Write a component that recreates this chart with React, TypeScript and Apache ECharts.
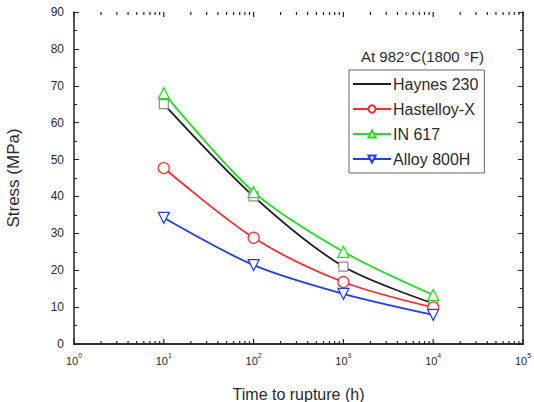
import React, { useEffect, useRef } from "react";
import * as echarts from "echarts";

const times = [10, 100, 1000, 10000];
const haynes = [65, 40, 21, 11];
const hastelloy = [47.7, 28.8, 16.8, 9.9];
const in617 = [68, 41.2, 25, 13.3];
const alloy800 = [34.2, 21.4, 13.6, 7.9];
const yTicks = [0, 10, 20, 30, 40, 50, 60, 70, 80, 90];
const majorX = [1, 10, 100, 1000, 10000, 100000];
const minorMult = [2, 3, 4, 5, 6, 7, 8, 9];

const xTicks: number[][] = [];
majorX.forEach((d) => {
  xTicks.push([d, 5]);
  if (d < 100000) minorMult.forEach((m) => xTicks.push([d * m, 3]));
});

const pair = (vals: number[]) => times.map((t, i) => [t, vals[i]]);

export default function App() {
  const ref = useRef<HTMLDivElement>(null);
  useEffect(() => {
    if (!ref.current) return;
    const chart = echarts.init(ref.current, undefined, { renderer: "svg" });
    const font = "Liberation Sans, Arial, sans-serif";
    const textColor = "#2a2a2a";
    const axisLine = { show: true, lineStyle: { color: "#222", width: 1.5 } };
    const mkSeries = (name: string, vals: number[], color: string, symbol: string, rotate = 0, border?: string) => ({
      name,
      type: "line",
      data: pair(vals),
      smooth: 0.3,
      symbol,
      symbolSize: symbol === "rect" ? 9 : 11,
      symbolRotate: rotate,
      showAllSymbol: true,
      lineStyle: { color, width: 1.8 },
      itemStyle: { color: "#fff", borderColor: border || color, borderWidth: 1.2 },
      z: 3,
    });
    chart.setOption({
      animation: false,
      backgroundColor: "#fff",
      textStyle: { fontFamily: font },
      grid: { left: 74, right: 11, top: 12, bottom: 58, containLabel: false, outerBoundsMode: "none" },
      title: {
        text: "At 982°C(1800 °F)",
        left: 356,
        top: 44,
        textStyle: { fontSize: 15, fontWeight: "normal", color: textColor, fontFamily: font },
      },
      legend: {
        orient: "vertical",
        left: 349,
        top: 70,
        itemWidth: 38,
        itemHeight: 9,
        itemGap: 9,
        padding: [6, 6, 6, 3],
        borderColor: "#666",
        borderWidth: 1,
        textStyle: { fontSize: 16, color: textColor, fontFamily: font, padding: [0, 0, 0, -3] },
        data: [
          { name: "Haynes 230", itemStyle: { opacity: 0 } },
          "Hastelloy-X",
          "IN 617",
          "Alloy 800H",
        ],
      },
      xAxis: [
        {
          type: "log",
          logBase: 10,
          min: 1,
          max: 100000,
          position: "bottom",
          name: "Time to rupture (h)",
          nameLocation: "middle",
          nameGap: 42,
          nameTextStyle: { fontSize: 16, color: textColor, fontFamily: font },
          axisLine,
          axisTick: { show: false },
          splitLine: { show: false },
          axisLabel: {
            margin: 8,
            formatter: (v: number) => `{b|10}{s|${Math.round(Math.log10(v))}}`,
            rich: {
              b: { fontSize: 11, color: textColor, fontFamily: font, verticalAlign: "bottom", lineHeight: 14 },
              s: { fontSize: 7, color: textColor, fontFamily: font, verticalAlign: "top", lineHeight: 14, padding: [0, 0, 6, 0] },
            },
          },
        },
        {
          type: "log",
          logBase: 10,
          min: 1,
          max: 100000,
          position: "top",
          axisLine,
          axisTick: { show: false },
          axisLabel: { show: false },
          splitLine: { show: false },
        },
      ],
      yAxis: [
        {
          type: "value",
          min: 0,
          max: 90,
          interval: 10,
          position: "left",
          name: "Stress (MPa)",
          nameLocation: "middle",
          nameGap: 52,
          nameTextStyle: { fontSize: 17, color: textColor, fontFamily: font },
          axisLine,
          axisTick: { show: true, inside: true, length: 5, lineStyle: { color: "#222" } },
          minorTick: { show: true, splitNumber: 2, length: 3, lineStyle: { color: "#222" } },
          splitLine: { show: false },
          axisLabel: {
            fontSize: 12,
            color: textColor,
            margin: 10,
            formatter: (v: number) => (yTicks.includes(v) ? String(v) : ""),
          },
        },
        {
          type: "value",
          min: 0,
          max: 90,
          interval: 10,
          position: "right",
          axisLine,
          axisTick: { show: true, inside: true, length: 5, lineStyle: { color: "#222" } },
          minorTick: { show: true, splitNumber: 2, length: 3, lineStyle: { color: "#222" } },
          axisLabel: { show: false },
          splitLine: { show: false },
        },
      ],
      series: [
        mkSeries("Haynes 230", haynes, "#1e1e1e", "rect", 0, "#8a8a8a"),
        mkSeries("Hastelloy-X", hastelloy, "#ff2b2b", "circle"),
        mkSeries("IN 617", in617, "#1fe01f", "triangle"),
        mkSeries("Alloy 800H", alloy800, "#1b3dff", "triangle", 180),
        {
          type: "custom",
          silent: true,
          clip: false,
          data: xTicks,
          renderItem: (params: any, api: any) => {
            const v = api.value(0);
            const len = api.value(1);
            const b = api.coord([v, 0]);
            const t = api.coord([v, 90]);
            const style = { stroke: "#222", lineWidth: 1.2 };
            return {
              type: "group",
              children: [
                { type: "line", shape: { x1: b[0], y1: b[1], x2: b[0], y2: b[1] - len }, style },
                { type: "line", shape: { x1: t[0], y1: t[1], x2: t[0], y2: t[1] + len }, style },
              ],
            };
          },
          z: 1,
        },
      ],
    });
    return () => chart.dispose();
  }, []);
  return <div ref={ref} style={{ position: "fixed", left: 0, top: 0, width: 534, height: 402 }} />;
}
